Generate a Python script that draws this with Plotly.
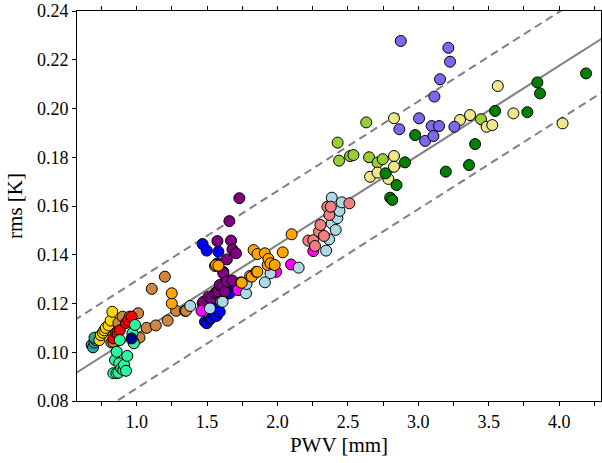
import numpy as np
import plotly.graph_objects as go

# ---- data (PWV [mm], rms [K]) per group ----
teal_x = [0.68, 0.69, 0.70, 0.71, 0.72, 0.70]
teal_y = [0.103, 0.102, 0.104, 0.105, 0.106, 0.106]

gold_x = [0.735, 0.745, 0.76, 0.77, 0.78, 0.80, 0.815, 0.827]
gold_y = [0.105, 0.107, 0.108, 0.109, 0.110, 0.111, 0.113, 0.1166]

peru_x = [0.82, 0.834, 0.87, 0.90, 0.95, 1.01, 1.007, 1.02, 1.07, 1.107, 1.135, 1.20, 1.22, 1.28, 1.343, 1.35]
peru_y = [0.104, 0.1043, 0.112, 0.1146, 0.1146, 0.116, 0.106, 0.106, 0.110, 0.126, 0.111, 0.131, 0.113, 0.117, 0.117, 0.117]

red_x = [0.834, 0.853, 0.865, 0.88, 0.924, 0.94, 0.964]
red_y = [0.1057, 0.108, 0.1078, 0.109, 0.112, 0.113, 0.1146]

sgreen_x = [0.834, 0.846, 0.856, 0.858, 0.87, 0.876, 0.88, 0.89, 0.905, 0.91, 0.924, 0.933, 0.97, 0.976, 0.98, 0.988]
sgreen_y = [0.0914, 0.0968, 0.0914, 0.1002, 0.0916, 0.0955, 0.105, 0.0934, 0.0927, 0.0948, 0.0924, 0.0985, 0.1078, 0.1043, 0.1037, 0.1112]

navy_x = [0.964]
navy_y = [0.1057]

blue_x = [1.468, 1.485, 1.497, 1.497, 1.52, 1.53, 1.55, 1.568, 1.568, 1.58, 1.58, 1.587, 1.59, 1.60, 1.575, 1.615, 1.627, 1.634, 1.66, 1.70]
blue_y = [0.1444, 0.1125, 0.1119, 0.1417, 0.1135, 0.114, 0.115, 0.1149, 0.1173, 0.1194, 0.1413, 0.1221, 0.1166, 0.1269, 0.1365, 0.133, 0.1235, 0.1296, 0.1242, 0.127]

purple_x = [1.468, 1.473, 1.51, 1.53, 1.556, 1.568, 1.573, 1.58, 1.59, 1.61, 1.615, 1.627, 1.64, 1.64, 1.658, 1.67, 1.68, 1.68, 1.705, 1.729]
purple_y = [0.120, 0.1207, 0.1228, 0.1221, 0.1242, 0.1248, 0.1456, 0.125, 0.1276, 0.1269, 0.1324, 0.1248, 0.129, 0.1381, 0.1538, 0.1458, 0.1422, 0.1294, 0.1406, 0.1632]

magenta_x = [1.46, 1.72, 1.99, 2.096, 2.254]
magenta_y = [0.117, 0.1255, 0.133, 0.136, 0.1415]

lblue_x = [1.38, 1.52, 1.60, 1.61, 1.776, 1.78, 1.91, 1.95, 2.15, 2.345, 2.366, 2.385, 2.385, 2.413, 2.425, 2.44, 2.456]
lblue_y = [0.1190, 0.118, 0.1207, 0.1207, 0.1242, 0.128, 0.1287, 0.1324, 0.1347, 0.1417, 0.1463, 0.1529, 0.1634, 0.1502, 0.155, 0.158, 0.1615]

orange_x = [1.249, 1.249, 1.556, 1.563, 1.58, 1.74, 1.746, 1.805, 1.817, 1.83, 1.85, 1.857, 1.857, 1.91, 1.93, 1.935, 1.95, 1.98, 2.037, 2.10]
orange_y = [0.12, 0.1242, 0.1354, 0.1358, 0.1355, 0.1287, 0.1285, 0.1313, 0.131, 0.1419, 0.133, 0.133, 0.1403, 0.1406, 0.1358, 0.1383, 0.1365, 0.1358, 0.141, 0.1484]

coral_x = [2.219, 2.254, 2.266, 2.295, 2.305, 2.33, 2.354, 2.368, 2.378, 2.51]
coral_y = [0.1458, 0.146, 0.1436, 0.1495, 0.1522, 0.1477, 0.1597, 0.1563, 0.1597, 0.1611]

ygreen_x = [2.427, 2.437, 2.515, 2.539, 2.63, 2.65, 2.71, 2.747, 3.445]
ygreen_y = [0.186, 0.1786, 0.1805, 0.1809, 0.1943, 0.18, 0.1778, 0.1792, 0.1956]

khaki_x = [2.657, 2.71, 2.787, 2.827, 2.827, 2.827, 3.296, 3.367, 3.485, 3.525, 3.564, 3.675, 4.024]
khaki_y = [0.172, 0.1737, 0.1711, 0.196, 0.1805, 0.1761, 0.1953, 0.1973, 0.1925, 0.1932, 0.2092, 0.198, 0.1939]

slate_x = [2.865, 2.875, 3.005, 3.048, 3.095, 3.107, 3.114, 3.147, 3.154, 3.213, 3.225, 3.256]
slate_y = [0.1915, 0.2277, 0.196, 0.1867, 0.1928, 0.1887, 0.2049, 0.1928, 0.212, 0.2249, 0.2192, 0.1925]

green_x = [2.767, 2.80, 2.815, 2.845, 2.905, 2.977, 3.195, 3.36, 3.403, 3.545, 3.774, 3.845, 3.864, 4.191]
green_y = [0.1734, 0.1634, 0.1625, 0.1686, 0.1779, 0.1891, 0.1741, 0.1768, 0.1854, 0.199, 0.1985, 0.2107, 0.2062, 0.2144]

# fit parameters
fit_slope = 0.03674
fit_intercept = 0.0706
fit_offset = 0.0221

x_range = [0.576, 4.297]
y_range = [0.08, 0.24]
x_ticks = [0.5, 0.75, 1.0, 1.25, 1.5, 1.75, 2.0, 2.25, 2.5, 2.75, 3.0, 3.25, 3.5, 3.75, 4.0, 4.25]
x_ticktext = ["", "", "1.0", "", "1.5", "", "2.0", "", "2.5", "", "3.0", "", "3.5", "", "4.0", ""]
y_ticks = [0.08, 0.10, 0.12, 0.14, 0.16, 0.18, 0.20, 0.22, 0.24]
y_ticktext = ["0.08", "0.10", "0.12", "0.14", "0.16", "0.18", "0.20", "0.22", "0.24"]

groups = [
    (teal_x, teal_y, "#2aa3a3"),
    (gold_x, gold_y, "#FFD700"),
    (peru_x, peru_y, "#CD853F"),
    (red_x, red_y, "#FF0000"),
    (sgreen_x, sgreen_y, "#2df59e"),
    (navy_x, navy_y, "#00008B"),
    (blue_x, blue_y, "#0000FF"),
    (purple_x, purple_y, "#800080"),
    (magenta_x, magenta_y, "#FF00FF"),
    (lblue_x, lblue_y, "#ADD8E6"),
    (orange_x, orange_y, "#FFA500"),
    (coral_x, coral_y, "#F08080"),
    (ygreen_x, ygreen_y, "#9ACD32"),
    (khaki_x, khaki_y, "#F0E68C"),
    (slate_x, slate_y, "#7B68EE"),
    (green_x, green_y, "#008000"),
]

fig = go.Figure()

xl = np.array([0.4, 4.5])
fig.add_trace(go.Scatter(x=xl, y=fit_intercept + fit_slope * xl, mode="lines",
                         line=dict(color="#808080", width=2), hoverinfo="skip"))
for s in (1, -1):
    fig.add_trace(go.Scatter(x=xl, y=fit_intercept + fit_slope * xl + s * fit_offset, mode="lines",
                             line=dict(color="#808080", width=2, dash="8px,5px"), hoverinfo="skip"))

for gx, gy, c in groups:
    fig.add_trace(go.Scatter(x=gx, y=gy, mode="markers",
                             marker=dict(size=11, color=c, line=dict(color="black", width=1))))

font = "Liberation Serif, DejaVu Serif, serif"
fig.update_layout(
    width=602, height=463,
    margin=dict(l=77, r=1, t=11, b=62),
    paper_bgcolor="white", plot_bgcolor="white",
    showlegend=False,
    font=dict(family=font, size=18, color="black"),
)
fig.update_xaxes(range=x_range, tickvals=x_ticks, ticktext=x_ticktext,
                 ticks="outside", ticklen=4, tickwidth=1, tickcolor="black",
                 showline=True, linecolor="black", linewidth=1, mirror="allticks",
                 showgrid=False, zeroline=False, automargin=False,
                 title=dict(text="PWV [mm]", font=dict(size=21), standoff=6))
fig.update_yaxes(range=y_range, tickvals=y_ticks, ticktext=y_ticktext,
                 ticks="outside", ticklen=4, tickwidth=1, tickcolor="black",
                 showline=True, linecolor="black", linewidth=1, mirror="allticks",
                 showgrid=False, zeroline=False, automargin=False,
                 title=dict(text="rms [K]", font=dict(size=21), standoff=8))

fig.write_html("out.html", config={"displayModeBar": False},
               post_script="document.body.style.margin='0';document.body.style.overflow='hidden';")
